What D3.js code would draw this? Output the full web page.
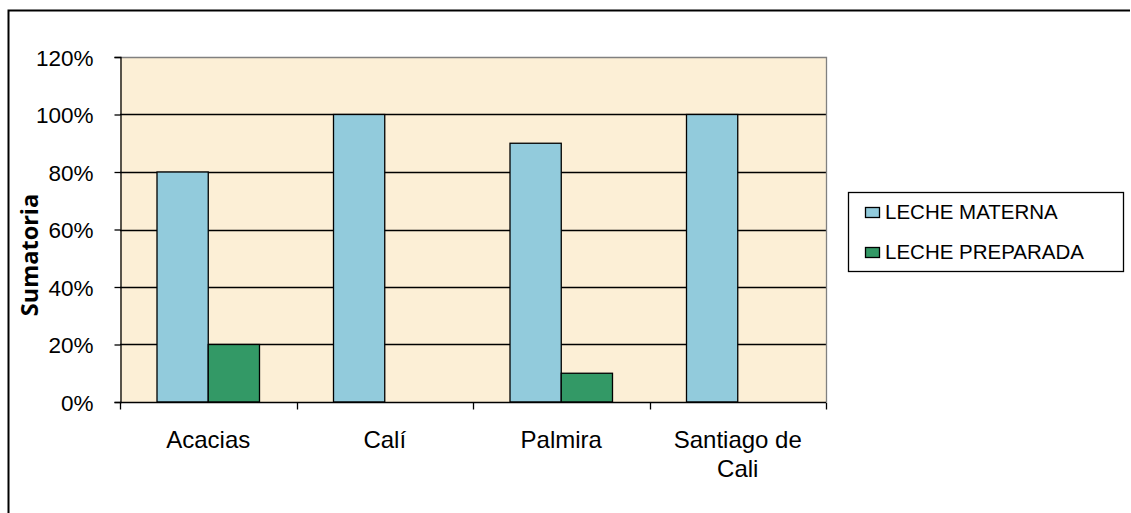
<!DOCTYPE html>
<meta charset="utf-8">
<script src="https://cdn.jsdelivr.net/npm/d3@7"></script>
<style>
  body { margin: 0; background: #fff; }
  svg { display: block; font-family: "Liberation Sans", Arial, sans-serif; }
</style>
<body>
<script>

var categories = ["Acacias", "Calí", "Palmira", "Santiago de Cali"];
var seriesNames = ["LECHE MATERNA", "LECHE PREPARADA"];
var materna = [0.80, 1.00, 0.90, 1.00];
var preparada = [0.20, 0, 0.10, 0];
var yTicks = [0, 0.2, 0.4, 0.6, 0.8, 1.0, 1.2];
var colors = ["#92cbdc", "#339966"];

var W = 1131, H = 513;
var plot = {left: 120, right: 826, top: 57, bottom: 402};

var svg = d3.select("body").append("svg")
    .attr("width", W)
    .attr("height", H);

// outer chart frame (only top and left edges visible in the shot)
svg.append("path")
    .attr("d", "M8.5,520 L8.5,10.5 L1130,10.5")
    .attr("fill", "none")
    .attr("stroke", "#000")
    .attr("stroke-width", 2);

var x = d3.scaleBand().domain(categories).range([plot.left, plot.right]);
var y = d3.scaleLinear().domain([0, 1.2]).range([plot.bottom, plot.top]);

// plot background
svg.append("rect")
    .attr("x", plot.left).attr("y", plot.top)
    .attr("width", plot.right - plot.left)
    .attr("height", plot.bottom - plot.top)
    .attr("fill", "#fcefd6");

// gridlines
svg.append("g").selectAll("line")
    .data(yTicks.filter(d => d > 0 && d < 1.2))
    .enter().append("line")
    .attr("x1", plot.left).attr("x2", plot.right)
    .attr("y1", d => Math.round(y(d)) + 0.5)
    .attr("y2", d => Math.round(y(d)) + 0.5)
    .attr("stroke", "#000")
    .attr("stroke-width", 1.3);

// plot area top/right border (gray)
svg.append("path")
    .attr("d", "M" + plot.left + "," + (plot.top + 0.5) + " L" + (plot.right + 0.5) + "," + (plot.top + 0.5) + " L" + (plot.right + 0.5) + "," + plot.bottom)
    .attr("fill", "none")
    .attr("stroke", "#808080")
    .attr("stroke-width", 1.3);

// bars
var bandPad = 37;
var barW = (x.bandwidth() - 2 * bandPad) / 2;
var rows = [];
categories.forEach(function(c, i) {
  rows.push({cat: c, s: 0, v: materna[i]});
  rows.push({cat: c, s: 1, v: preparada[i]});
});

svg.append("g").selectAll("rect")
    .data(rows.filter(d => d.v > 0))
    .enter().append("rect")
    .attr("x", d => x(d.cat) + bandPad + d.s * barW)
    .attr("y", d => y(d.v))
    .attr("width", barW)
    .attr("height", d => y(0) - y(d.v))
    .attr("fill", d => colors[d.s])
    .attr("stroke", "#000")
    .attr("stroke-width", 1.3);

// y axis
var yAxis = svg.append("g")
    .attr("transform", "translate(" + (plot.left + 0.5) + ",0)")
    .call(d3.axisLeft(y).tickValues(yTicks).tickFormat(d3.format(".0%")).tickSizeOuter(0).tickSize(6));
yAxis.select(".domain").attr("stroke", "#000").attr("stroke-width", 1.3);
yAxis.selectAll(".tick line").attr("stroke", "#000").attr("stroke-width", 1.3);
yAxis.selectAll("text")
    .attr("x", -27)
    .attr("dy", "0.36em")
    .attr("fill", "#000")
    .style("font-size", "22.5px")
    .style("font-family", "Liberation Sans, Arial, sans-serif");

// x axis
var xAxis = svg.append("g")
    .attr("transform", "translate(0," + (plot.bottom + 0.5) + ")");
xAxis.append("line")
    .attr("x1", plot.left).attr("x2", plot.right)
    .attr("stroke", "#000").attr("stroke-width", 1.3);
var xEdges = categories.map(c => x(c)).concat([plot.right]);
xAxis.selectAll(".tk")
    .data(xEdges)
    .enter().append("line")
    .attr("x1", d => Math.round(d) + 0.5).attr("x2", d => Math.round(d) + 0.5)
    .attr("y1", 0).attr("y2", 7)
    .attr("stroke", "#000").attr("stroke-width", 1.3);

var xLabels = svg.append("g").selectAll("text")
    .data(categories)
    .enter().append("text")
    .attr("text-anchor", "middle")
    .attr("font-size", "24px")
    .attr("fill", "#000");
xLabels.each(function(d) {
  var lines = d === "Santiago de Cali" ? ["Santiago de", "Cali"] : [d];
  var t = d3.select(this);
  lines.forEach(function(l, i) {
    t.append("tspan")
      .attr("x", x(d) + x.bandwidth() / 2)
      .attr("y", 448 + i * 29)
      .text(l);
  });
});

// y axis title
svg.append("text")
    .attr("transform", "translate(38,255) rotate(-90)")
    .attr("text-anchor", "middle")
    .attr("font-size", "23.5px")
    .attr("font-weight", "bold")
    .style("font-family", "'Open Sans', 'DejaVu Sans', sans-serif")
    .text("Sumatoria");

// legend
var leg = svg.append("g");
leg.append("rect")
    .attr("x", 848.5).attr("y", 192.5)
    .attr("width", 275).attr("height", 79)
    .attr("fill", "#fff")
    .attr("stroke", "#000")
    .attr("stroke-width", 1.3);
var items = leg.selectAll(".item")
    .data(seriesNames)
    .enter().append("g")
    .attr("transform", (d, i) => "translate(865," + (207 + i * 40) + ")");
items.append("rect")
    .attr("x", 0.5).attr("y", 0.5)
    .attr("width", 14).attr("height", 10)
    .attr("fill", (d, i) => colors[i])
    .attr("stroke", "#000")
    .attr("stroke-width", 1.3);
items.append("text")
    .attr("x", 20)
    .attr("y", 12)
    .attr("font-size", "20.5px")
    .attr("fill", "#000")
    .text(d => d);

</script>
</body>
